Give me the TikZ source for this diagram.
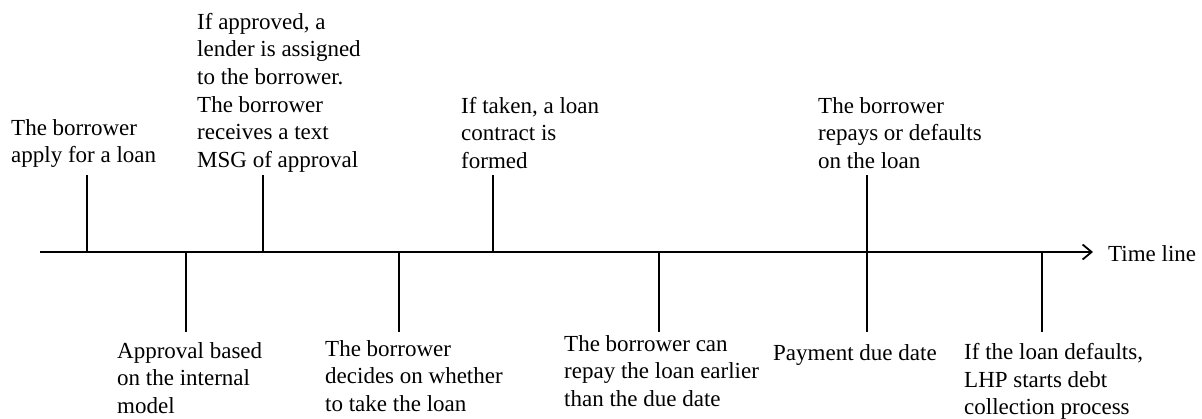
\documentclass[tikz,border=0pt]{standalone}
\usepackage{fontspec}
\setmainfont{Liberation Serif}
\usetikzlibrary{arrows.meta}
\begin{document}
\begin{tikzpicture}[x=1pt,y=-1pt,
  lbl/.style={anchor=north west,inner sep=0pt,align=left,font=\fontsize{23}{27.6}\selectfont},
  tick/.style={line width=1.8pt},
  axisline/.style={line width=1.8pt,-{Straight Barb[length=9pt,width=15pt]}}]
\useasboundingbox (0,0) rectangle (1202,418);
% axis
\coordinate (s) at (40,252);
\coordinate (e) at (1093,252);
\draw[axisline] (s) -- (e);
\node[anchor=base west,inner sep=0pt,font=\fontsize{23}{27.6}\selectfont] (tl) at (1108,261) {Time line};
% upper labels
\node[lbl] (a1) at (11,119) {The borrower\\apply for a loan};
\node[lbl] (a3) at (197,13) {If approved, a\\lender is assigned\\to the borrower.\\The borrower\\receives a text\\MSG of approval};
\node[lbl] (a5) at (461,97) {If taken, a loan\\contract is\\formed};
\node[lbl] (a7) at (818,97) {The borrower\\repays or defaults\\on the loan};
% lower labels
\node[lbl] (b2) at (117,342) {Approval based\\on the internal\\model};
\node[lbl] (b4) at (325,340) {The borrower\\decides on whether\\to take the loan};
\node[lbl] (b6) at (564,335) {The borrower can\\repay the loan earlier\\than the due date};
\node[lbl] (b7) at (773,344) {Payment due date};
\node[lbl] (b8) at (964,343) {If the loan defaults,\\LHP starts debt\\collection process};
% tick coordinates
\foreach \n/\x in {1/87,3/263,5/493,7/867}{
  \coordinate (u\n) at (\x,175);
  \coordinate (m\n) at (\x,252);
}
\foreach \n/\x in {2/186,4/399,6/659,7/867,8/1042}{
  \coordinate (d\n) at (\x,332);
  \coordinate (n\n) at (\x,252);
}
\foreach \n in {1,3,5,7}{\draw[tick] (m\n) -- (u\n);}
\foreach \n in {2,4,6,7,8}{\draw[tick] (n\n) -- (d\n);}
\end{tikzpicture}
\end{document}
